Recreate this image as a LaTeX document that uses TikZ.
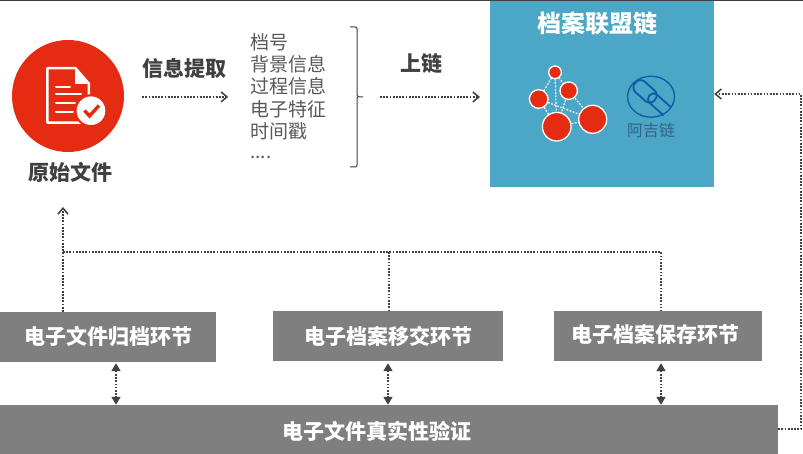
\documentclass[tikz,border=0pt]{standalone}
\usepackage{fontspec}
\setmainfont{Noto Sans CJK SC}
\usetikzlibrary{arrows.meta,calc,shapes.geometric}
\definecolor{grayfill}{HTML}{7F7F7F}
\definecolor{blueteal}{HTML}{4BA7C5}
\definecolor{redfill}{HTML}{E52B12}
\definecolor{darktext}{HTML}{404040}
\definecolor{listtext}{HTML}{595959}
\definecolor{logoblue}{HTML}{0B5CA8}
\definecolor{logotext}{HTML}{34628F}
\tikzset{
  graybox/.style={fill=grayfill,draw=none,inner sep=0pt,text=white,font=\fontsize{21}{21}\selectfont\bfseries},
  headlabel/.style={inner sep=0pt,text=darktext,font=\fontsize{21}{21}\selectfont\bfseries},
  listitem/.style={inner sep=0pt,anchor=west,text=listtext,font=\fontsize{19}{19}\selectfont},
  dotline/.style={draw=darktext,line width=1.7pt,dash pattern=on 1.7pt off 1.5pt},
  openarrow/.style={dotline,-{Straight Barb[length=6pt,width=10pt,line width=1.5pt]}},
  bothway/.style={dotline,{Triangle[length=8pt,width=9pt]}-{Triangle[length=8pt,width=9pt]}},
  netedge/.style={draw=white,line width=1.2pt,dash pattern=on 1.8pt off 1.5pt},
  netnode/.style={circle,fill=redfill,draw=white,line width=1.3pt,inner sep=0pt},
}
\begin{document}
\begin{tikzpicture}[x=1pt,y=-1pt]
\useasboundingbox (0,0) rectangle (803,454);
\fill[white] (0,0) rectangle (803,454);
% source icon
\node[circle,fill=redfill,minimum size=112pt,inner sep=0pt] (src) at (68,96) {};
\fill[white,even odd rule] (48,67) -- (76,67) -- (90,83) -- (90,124) -- (48,124) .. controls (46.5,124) and (46,123) .. (46,122) -- (46,69) .. controls (46,68) and (46.5,67) .. (48,67) -- cycle
  (48.5,69.5) -- (48.5,121.5) -- (87.5,121.5) -- (87.5,84) -- (75,84) -- (75,69.5) -- cycle;
\foreach \ya/\xb in {86.7/70,94.3/81,103.3/75,112.3/73}
  \draw[white,line width=2pt,line cap=round] (56,\ya) -- (\xb,\ya);
\fill[redfill] (91,110.7) circle (16.5);
\fill[white] (91,110.7) circle (14.3);
\draw[redfill,line width=3.4pt] (84.5,110.5) -- (89.5,116) -- (99,105.5);
\node[headlabel] (srclabel) at (70,172) {原始文件};
\node[headlabel] (extract) at (184,68) {信息提取};
\node[headlabel] (upchain) at (421,64) {上链};
% list
\node[listitem] (l1) at (250,42) {档号};
\node[listitem] (l2) at (250,64.3) {背景信息};
\node[listitem] (l3) at (250,86.6) {过程信息};
\node[listitem] (l4) at (250,109) {电子特征};
\node[listitem] (l5) at (250,131.6) {时间戳};
\node[listitem] (l6) at (250,157) {....};
% brace
\coordinate (brace) at (357,97);
\draw[darktext,line width=1pt] (350,27) -- (355,27) .. controls (356.5,27) and (357,27.5) .. (357,29) -- (357,95) .. controls (357,96.5) and (358,97) .. (363,97);
\draw[darktext,line width=1pt] (357,97) .. controls (358,97) and (357,97.5) .. (357,99) -- (357,165) .. controls (357,166.5) and (356.5,167) .. (355,167) -- (350,167);
% chain box
\node[fill=blueteal,minimum width=224pt,minimum height=187pt,inner sep=0pt] (chain) at (602,93.5) {};
\fill[darktext] (0,0) rectangle (803,1);
\node[inner sep=0pt,text=white,font=\fontsize{24}{24}\selectfont\bfseries] (chaintitle) at (597,23) {档案联盟链};
% network
\coordinate (c1) at (555,72.3);
\coordinate (c2) at (568.7,90.7);
\coordinate (c3) at (538.7,99);
\coordinate (c4) at (592.7,119.3);
\coordinate (c5) at (556.7,126.7);
\foreach \a/\b in {c1/c2,c1/c3,c1/c5,c2/c4,c2/c5,c3/c4,c3/c5,c4/c5}
  \draw[netedge] (\a) -- (\b);
\node[netnode,minimum size=12.6pt] (n1) at (c1) {};
\node[netnode,minimum size=17.4pt] (n2) at (c2) {};
\node[netnode,minimum size=18.6pt] (n3) at (c3) {};
\node[netnode,minimum size=28pt] (n4) at (c4) {};
\node[netnode,minimum size=28.6pt] (n5) at (c5) {};
% logo
\node[ellipse,draw=logoblue,line width=1.3pt,minimum width=47pt,minimum height=41pt,inner sep=0pt] (logo) at (651,96.7) {};
\begin{scope}[shift={(651,96.7)},rotate=-42]
  \draw[logoblue,line width=1.8pt,rounded corners=6.5pt] (-21,-7) rectangle (5,7);
  \draw[logoblue,line width=1.8pt,rounded corners=5pt] (22,-5.5) -- (-2,-5.5) -- (-2,5.5) -- (22,5.5);
\end{scope}
\node[inner sep=0pt,text=logotext,font=\fontsize{16}{16}\selectfont] (logolabel) at (651,130) {阿吉链};
% gray boxes
\node[graybox,minimum width=216pt,minimum height=50pt] (b1) at (108,337) {电子文件归档环节};
\node[graybox,minimum width=230pt,minimum height=50pt] (b2) at (388,336) {电子档案移交环节};
\node[graybox,minimum width=208pt,minimum height=50pt] (b3) at (658,336) {};
\node[graybox] at (655,334.5) {电子档案保存环节};
\node[graybox,minimum width=778pt,minimum height=49pt] (b4) at (389,429.5) {};
\node[graybox] at (377,431) {电子文件真实性验证};
% connector points
\coordinate (bus) at (63,252);
\coordinate (srcin) at (63,207);
\coordinate (x2) at (389,252);
\coordinate (x3) at (661,252);
\coordinate (rt) at (801,429);
\coordinate (rt2) at (801,94);
% connectors
\draw[openarrow] ($(src.east)+(18,0.9)$) -- ++(86,0);
\draw[openarrow] ($(brace)+(23,0)$) -- ++(100,0);
\draw[openarrow] (b1.north -| bus) -- (srcin);
\draw[dotline] (bus) -- (x3) -- (b3.north -| x3);
\draw[dotline] (x2) -- (b2.north -| x2);
\draw[openarrow] (b4.east |- rt) -- (rt) -- (rt2) -- (chain.east |- rt2);
\draw[bothway] ([xshift=8pt,yshift=-1pt]b1.south) -- ([xshift=8pt]b1.south |- b4.north);
\draw[bothway] ([yshift=-2pt]b2.south) -- (b2.south |- b4.north);
\draw[bothway] ([xshift=3pt,yshift=-2pt]b3.south) -- ([xshift=3pt]b3.south |- b4.north);
\end{tikzpicture}
\end{document}
